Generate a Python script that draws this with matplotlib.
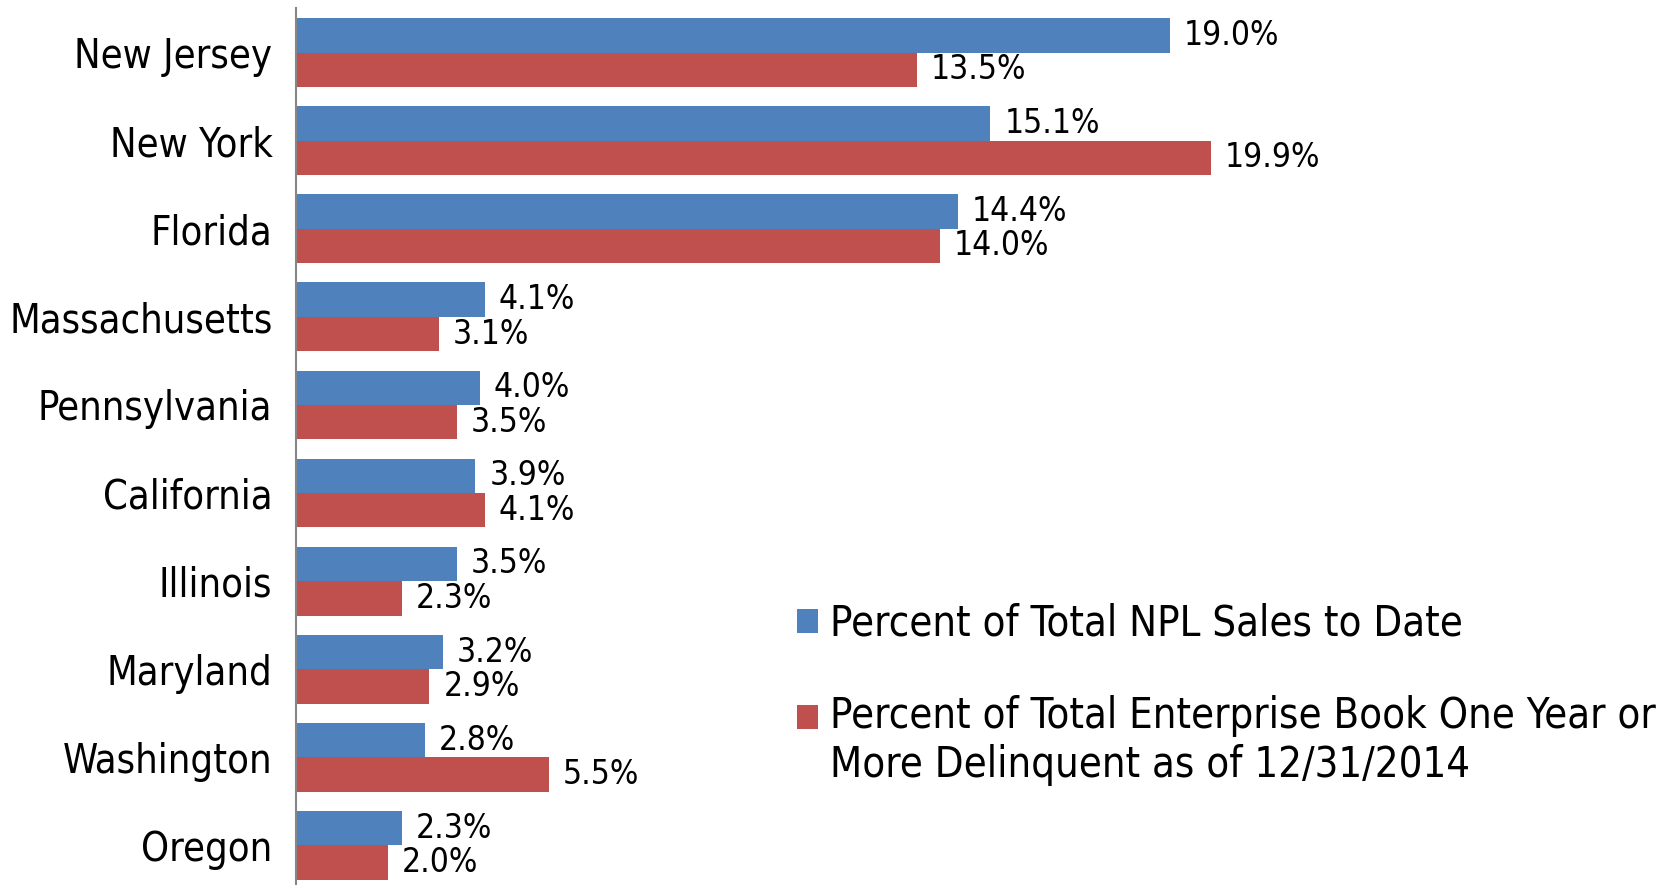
import matplotlib
matplotlib.use("Agg")
import matplotlib.pyplot as plt
import numpy as np

states = ["New Jersey", "New York", "Florida", "Massachusetts", "Pennsylvania",
          "California", "Illinois", "Maryland", "Washington", "Oregon"]
npl_sales = [19.0, 15.1, 14.4, 4.1, 4.0, 3.9, 3.5, 3.2, 2.8, 2.3]
enterprise_book = [13.5, 19.9, 14.0, 3.1, 3.5, 4.1, 2.3, 2.9, 5.5, 2.0]
series_labels = ["Percent of Total NPL Sales to Date",
                 "Percent of Total Enterprise Book One Year or\nMore Delinquent as of 12/31/2014"]

BLUE = "#4F81BD"
RED = "#C0504D"
AXIS_GRAY = "#868686"

plt.rcParams["font.family"] = ["DejaVu Sans"]
plt.rcParams["font.stretch"] = "condensed"

W, H = 1671, 885
fig = plt.figure(figsize=(W / 100, H / 100), dpi=100)
ax = fig.add_axes([296 / W, -4.5 / H, 1 - 296 / W, 881 / H])

y = np.arange(len(states))
h = 0.39
b1 = ax.barh(y - h / 2, npl_sales, height=h, color=BLUE, label=series_labels[0])
b2 = ax.barh(y + h / 2, enterprise_book, height=h, color=RED, label=series_labels[1])

for bars, vals in ((b1, npl_sales), (b2, enterprise_book)):
    for bar, v in zip(bars, vals):
        ax.annotate(f"{v:.1f}%", (bar.get_width(), bar.get_y() + bar.get_height() / 2),
                    xytext=(10, 0), textcoords="offset points",
                    ha="left", va="center", fontsize=24, color="black")

ax.set_xlim(0, 29.9)
ax.set_ylim(len(states) - 0.5, -0.5)
ax.set_yticks(y)
ax.set_yticklabels(states, fontsize=28.5)
ax.tick_params(axis="y", length=0, pad=17)
ax.set_xticks([])
for s in ("top", "right", "bottom"):
    ax.spines[s].set_visible(False)
ax.spines["left"].set_color(AXIS_GRAY)
ax.spines["left"].set_linewidth(1.5)

leg = ax.legend(loc="upper left", bbox_to_anchor=(797 / W, 1 - 603 / H),
                bbox_transform=fig.transFigure, frameon=False, fontsize=30,
                handlelength=0.5, handleheight=0.5, handletextpad=0.3,
                labelspacing=1.2, borderpad=0, borderaxespad=0)
for t in leg.get_texts():
    t.set_linespacing(1.22)
# put the red marker next to the first line of its two-line label
red_handle = leg.legend_handles[1]
red_handle.set_y(red_handle.get_y() + 18)

fig.savefig("out.png", dpi=100)
